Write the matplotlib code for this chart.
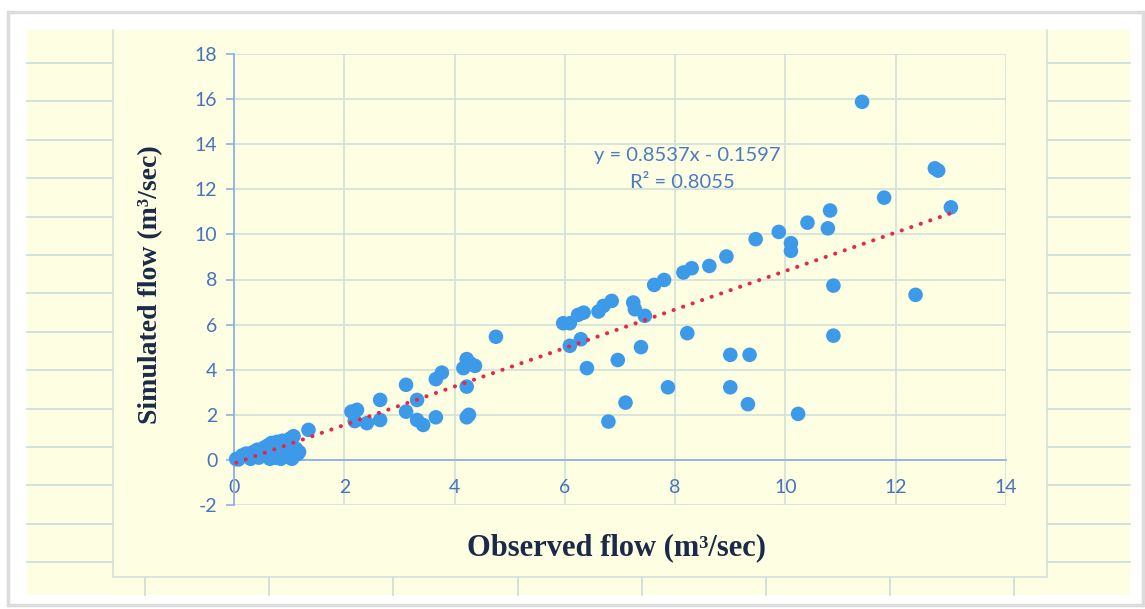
import numpy as np
import matplotlib
matplotlib.use("Agg")
import matplotlib.pyplot as plt
from matplotlib.patches import Rectangle, FancyBboxPatch
from matplotlib.lines import Line2D

plt.rcParams["axes.unicode_minus"] = False

# observed vs simulated daily flow (m3/sec)
observed = [0.04, 0.08, 0.15, 0.22, 0.30, 0.35, 0.42, 0.50, 0.55, 0.62,
            0.68, 0.72, 0.78, 0.82, 0.88, 0.92, 0.98, 1.02, 1.08, 1.12,
            1.18, 0.65, 0.75, 0.85, 0.95, 1.05, 1.15, 0.45, 0.60, 1.35,
            2.13, 2.23, 2.19, 2.41, 2.65, 2.65, 3.12, 3.12, 3.32, 3.32,
            3.43, 3.66, 3.66, 3.77, 4.22, 4.22, 4.26, 4.16, 4.22, 4.28,
            4.37, 4.75,
            5.97, 6.09, 6.24, 6.34, 6.61, 6.70, 6.85, 7.24, 7.27, 7.45,
            7.62, 7.80, 8.15, 8.30, 8.62, 8.93, 9.46, 9.88, 10.10, 10.10,
            10.40, 10.77, 10.81, 11.79, 12.71, 12.77, 13.00, 11.39,
            6.29, 6.09, 6.40, 6.96, 7.38, 8.22, 10.87, 10.87, 12.36, 9.00,
            9.35, 7.87, 9.00, 9.32, 7.10, 6.79, 10.23]
simulated = [0.04, 0.02, 0.20, 0.28, 0.05, 0.35, 0.45, 0.30, 0.55, 0.65,
             0.75, 0.60, 0.80, 0.70, 0.85, 0.60, 0.70, 0.95, 1.05, 0.50,
             0.35, 0.05, 0.10, 0.05, 0.15, 0.05, 0.25, 0.10, 0.20, 1.33,
             2.14, 2.22, 1.72, 1.63, 2.66, 1.77, 3.33, 2.14, 2.66, 1.77,
             1.55, 1.89, 3.58, 3.87, 3.25, 1.89, 2.00, 4.07, 4.47, 4.29,
             4.17, 5.46,
             6.06, 6.06, 6.43, 6.53, 6.58, 6.83, 7.05, 6.98, 6.68, 6.39,
             7.76, 7.98, 8.31, 8.50, 8.60, 9.02, 9.79, 10.11, 9.61, 9.27,
             10.52, 10.27, 11.06, 11.63, 12.93, 12.83, 11.20, 15.88,
             5.35, 5.06, 4.07, 4.43, 5.00, 5.62, 7.73, 5.51, 7.32, 4.66,
             4.66, 3.22, 3.22, 2.47, 2.54, 1.70, 2.04]

trend_slope = 0.8537
trend_intercept = -0.1597
r_squared = 0.8055

x_ticks = [0, 2, 4, 6, 8, 10, 12, 14]
y_ticks = [-2, 0, 2, 4, 6, 8, 10, 12, 14, 16, 18]

W, H = 1145, 609
sheet = "#fefee2"
cell_line = "#cbdcdc"
tick_blue = "#4672c0"

fig = plt.figure(figsize=(W / 100, H / 100), dpi=100, facecolor="white")


def px(x, y):
    return x / W, 1 - y / H


def fig_line(xs, ys, color=cell_line):
    fig.lines.append(Line2D([x / W for x in xs], [1 - y / H for y in ys],
                            transform=fig.transFigure, color=color, lw=1.2,
                            zorder=-5))


# window frame + sheet background
frame = FancyBboxPatch(px(8, 605), 1135 / W, 593 / H, boxstyle="square,pad=0",
                       transform=fig.transFigure, facecolor="white",
                       edgecolor="#dcdcdc", linewidth=2.5, zorder=-10)
fig.patches.append(frame)
fig.patches.append(Rectangle(px(27, 595), 1103 / W, 565 / H,
                             transform=fig.transFigure, facecolor=sheet,
                             edgecolor="none", zorder=-9))

# spreadsheet cell lines around the chart
for k in range(15):
    yy = 63 + 38.4 * k
    if yy > 592:
        break
    fig_line([27, 113], [yy, yy])
    fig_line([1047, 1130], [yy, yy])
for k in range(8):
    xx = 145 + 124.2 * k
    fig_line([xx, xx], [577, 595])
# chart area border
fig_line([113, 113, 1047, 1047], [30, 577, 577, 30], color="#d6e0dc")

ax = fig.add_axes([234 / W, 104 / H, 772 / W, 451 / H])
ax.patch.set_alpha(0)

ax.set_xlim(0, 14)
ax.set_ylim(-2, 18)
ax.set_xticks(x_ticks)
ax.set_yticks(y_ticks)
ax.grid(True, color="#d2e0d8", lw=1.2)
ax.set_axisbelow(True)

for s in ["top", "right"]:
    ax.spines[s].set_visible(False)
ax.spines["bottom"].set_position(("data", 0))
ax.spines["bottom"].set_color("#8fb2e2")
ax.spines["left"].set_color("#8fb2e2")
ax.spines["bottom"].set_linewidth(1.3)
ax.spines["left"].set_linewidth(1.3)

ax.tick_params(axis="y", colors="#8fb2e2", length=6, width=1.2, pad=6,
               labelcolor=tick_blue, labelsize=14)
ax.tick_params(axis="x", colors="#8fb2e2", length=0, pad=14,
               labelcolor=tick_blue, labelsize=14)
for lab in ax.get_xticklabels() + ax.get_yticklabels():
    lab.set_fontfamily("Lato")

ax.scatter(observed, simulated, s=110, color="#3c9ae8", edgecolors="none",
           zorder=3, clip_on=False)

# linear trend line across the observed range
xt = np.linspace(min(observed), max(observed), 50)
ax.plot(xt, trend_slope * xt + trend_intercept, color="#e8264b", lw=2.9,
        linestyle=(0, (0.05, 2.45)), dash_capstyle="round", zorder=4)

ax.text(8.22, 13.48, f"y = {trend_slope}x - {abs(trend_intercept)}", ha="center",
        va="center", fontsize=14.5, color="#4a79c6", family="Lato", zorder=5)
ax.text(8.14, 12.28, f"R\u00b2 = {r_squared}", ha="center", va="center",
        fontsize=14.5, color="#4a79c6", family="Lato", zorder=5)

fig.text(617 / W, 1 - 548 / H, "Observed flow (m\u00b3/sec)", ha="center",
         va="center", fontsize=22, fontweight="bold", family="Liberation Serif",
         color="#1b2a48")
fig.text(151 / W, 1 - 285 / H, "Simulated flow (m\u00b3/sec)", ha="center",
         va="center", rotation=90, fontsize=20, fontweight="bold",
         family="Liberation Serif", color="#1b2a48")

fig.savefig("out.png", dpi=100, facecolor="white")
